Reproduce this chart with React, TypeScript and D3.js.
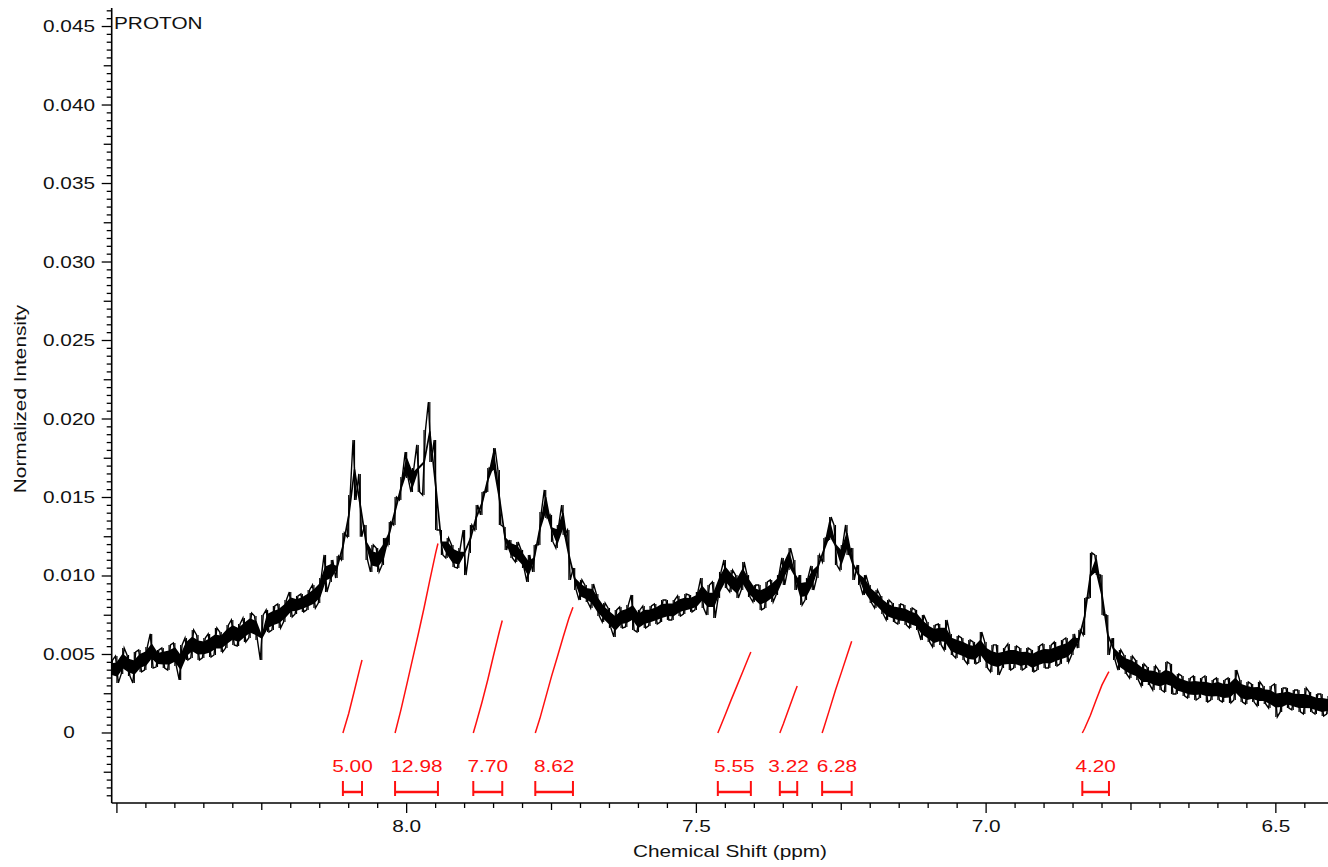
import React from "react";
import * as d3 from "d3";

// 1H spectrum, min/max intensity per 0.01 ppm bin, starting at 8.51 ppm and moving upfield
const PPM_START = 8.51;
const PPM_STEP = 0.01;

const traceHigh = [
  0.00465, 0.00490, 0.00541, 0.00497, 0.00516, 0.00529, 0.00548, 0.00631, 0.00529, 0.00541,
  0.00561, 0.00573, 0.00561, 0.00605, 0.00656, 0.00624, 0.00605, 0.00631, 0.00669, 0.00643,
  0.00688, 0.00720, 0.00694, 0.00733, 0.00764, 0.00745, 0.00752, 0.00784, 0.00809, 0.00822,
  0.00847, 0.00898, 0.00873, 0.00885, 0.00911, 0.00943, 0.00987, 0.01134, 0.01102, 0.01127,
  0.01274, 0.01516, 0.01866, 0.01650, 0.01325, 0.01198, 0.01178, 0.01242, 0.01344, 0.01503,
  0.01631, 0.01790, 0.01688, 0.01835, 0.01930, 0.02108, 0.01866, 0.01293, 0.01242, 0.01198,
  0.01178, 0.01293, 0.01325, 0.01452, 0.01535, 0.01688, 0.01815, 0.01675, 0.01312, 0.01229,
  0.01217, 0.01166, 0.01134, 0.01198, 0.01408, 0.01548, 0.01389, 0.01325, 0.01452, 0.01293,
  0.01051, 0.00975, 0.00943, 0.00949, 0.00885, 0.00828, 0.00796, 0.00784, 0.00803, 0.00815,
  0.00879, 0.00784, 0.00809, 0.00809, 0.00822, 0.00847, 0.00847, 0.00847, 0.00873, 0.00885,
  0.00879, 0.00898, 0.00987, 0.00943, 0.00962, 0.01026, 0.01102, 0.01038, 0.01006, 0.01089,
  0.01006, 0.00943, 0.00943, 0.00962, 0.00975, 0.01006, 0.01115, 0.01178, 0.01102, 0.01006,
  0.00987, 0.01064, 0.01134, 0.01242, 0.01376, 0.01325, 0.01198, 0.01325, 0.01178, 0.01070,
  0.01006, 0.00943, 0.00911, 0.00873, 0.00847, 0.00828, 0.00822, 0.00815, 0.00796, 0.00784,
  0.00752, 0.00707, 0.00688, 0.00694, 0.00720, 0.00631, 0.00618, 0.00605, 0.00592, 0.00580,
  0.00643, 0.00580, 0.00561, 0.00561, 0.00541, 0.00567, 0.00554, 0.00541, 0.00541, 0.00529,
  0.00554, 0.00567, 0.00561, 0.00580, 0.00592, 0.00605, 0.00631, 0.00656, 0.00860, 0.01147,
  0.01134, 0.01006, 0.00752, 0.00605, 0.00529, 0.00497, 0.00490, 0.00465, 0.00440, 0.00420,
  0.00427, 0.00401, 0.00452, 0.00440, 0.00376, 0.00363, 0.00350, 0.00363, 0.00350, 0.00363,
  0.00338, 0.00350, 0.00338, 0.00350, 0.00401, 0.00338, 0.00325, 0.00312, 0.00325, 0.00299,
  0.00299, 0.00312, 0.00287, 0.00287, 0.00274, 0.00274, 0.00287, 0.00261, 0.00248, 0.00248,
  0.00236,
];

const traceLow = [
  0.00350, 0.00319, 0.00376, 0.00363, 0.00319, 0.00389, 0.00401, 0.00414, 0.00420, 0.00414,
  0.00401, 0.00427, 0.00338, 0.00465, 0.00478, 0.00465, 0.00478, 0.00484, 0.00497, 0.00516,
  0.00541, 0.00561, 0.00554, 0.00580, 0.00605, 0.00592, 0.00465, 0.00643, 0.00656, 0.00669,
  0.00707, 0.00739, 0.00758, 0.00771, 0.00784, 0.00796, 0.00828, 0.00898, 0.00962, 0.00987,
  0.01102, 0.01249, 0.01484, 0.01250, 0.01102, 0.01026, 0.01026, 0.01070, 0.01198, 0.01325,
  0.01484, 0.01624, 0.01535, 0.01535, 0.01516, 0.01726, 0.01293, 0.01134, 0.01115, 0.01057,
  0.01051, 0.01006, 0.01147, 0.01293, 0.01389, 0.01535, 0.01675, 0.01325, 0.01166, 0.01115,
  0.01089, 0.01051, 0.00962, 0.01026, 0.01198, 0.01370, 0.01217, 0.01178, 0.01261, 0.00975,
  0.00911, 0.00847, 0.00834, 0.00796, 0.00745, 0.00707, 0.00669, 0.00612, 0.00669, 0.00675,
  0.00656, 0.00643, 0.00669, 0.00682, 0.00694, 0.00707, 0.00720, 0.00720, 0.00745, 0.00758,
  0.00771, 0.00784, 0.00796, 0.00752, 0.00733, 0.00860, 0.00924, 0.00898, 0.00860, 0.00911,
  0.00866, 0.00834, 0.00784, 0.00796, 0.00834, 0.00879, 0.00943, 0.01038, 0.00911, 0.00815,
  0.00847, 0.00911, 0.00987, 0.01089, 0.01229, 0.01070, 0.01038, 0.01134, 0.00975, 0.00943,
  0.00879, 0.00828, 0.00796, 0.00758, 0.00720, 0.00707, 0.00694, 0.00688, 0.00669, 0.00656,
  0.00592, 0.00580, 0.00548, 0.00561, 0.00529, 0.00497, 0.00478, 0.00465, 0.00440, 0.00440,
  0.00452, 0.00414, 0.00389, 0.00369, 0.00414, 0.00401, 0.00414, 0.00401, 0.00414, 0.00389,
  0.00401, 0.00414, 0.00414, 0.00427, 0.00440, 0.00452, 0.00497, 0.00541, 0.00624, 0.00860,
  0.01006, 0.00752, 0.00497, 0.00465, 0.00401, 0.00376, 0.00350, 0.00338, 0.00299, 0.00306,
  0.00274, 0.00274, 0.00261, 0.00248, 0.00248, 0.00236, 0.00223, 0.00210, 0.00223, 0.00197,
  0.00210, 0.00210, 0.00197, 0.00191, 0.00210, 0.00197, 0.00185, 0.00197, 0.00172, 0.00185,
  0.00159, 0.00102, 0.00134, 0.00159, 0.00147, 0.00134, 0.00121, 0.00134, 0.00121, 0.00108,
  0.00121,
];

// Integration regions (ppm, downfield edge first) and their integral values
const integralFrom = [8.110, 8.020, 7.885, 7.778, 7.463, 7.356, 7.283, 6.834];
const integralTo = [8.077, 7.946, 7.835, 7.713, 7.406, 7.326, 7.232, 6.788];
const integralValues = [5.0, 12.98, 7.7, 8.62, 5.55, 3.22, 6.28, 4.2];

const yLabelValues = [0, 0.005, 0.01, 0.015, 0.02, 0.025, 0.03, 0.035, 0.04, 0.045];
const yLabelTexts = ["0", "0.005", "0.010", "0.015", "0.020", "0.025", "0.030", "0.035", "0.040", "0.045"];
const xLabelValues = [8.0, 7.5, 7.0, 6.5];
const xLabelTexts = ["8.0", "7.5", "7.0", "6.5"];

const W = 1328;
const H = 867;
const PLOT_LEFT = 111.7;
const PLOT_BOTTOM = 803;
const PLOT_TOP = 8;
const FONT = "'Liberation Sans', Arial, Helvetica, sans-serif";
const TEXT_SX = 1.3;
const RED = "#ff1010";
const INTEGRAL_PX_PER_UNIT = 14.6;
// widest bin spread still treated as pure noise
const NOISE_SPREAD = 0.0025;

const x = d3.scaleLinear().domain([8.509, 6.41]).range([PLOT_LEFT, W]);
const y = d3.scaleLinear().domain([-0.00446, 0.04618]).range([PLOT_BOTTOM, PLOT_TOP]);

const N = traceHigh.length;
const ppmAt = (i: number) => PPM_START - i * PPM_STEP;
const mids = traceHigh.map((h, i) => (h + traceLow[i]) / 2);
const spreads = traceHigh.map((h, i) => h - traceLow[i]);
const slopes = mids.map((_, i) => mids[Math.min(N - 1, i + 1)] - mids[Math.max(0, i - 1)]);
const isEdge = (i: number) => Math.abs(slopes[i]) > spreads[i];
const isSignal = (i: number) => isEdge(i) || spreads[i] > NOISE_SPREAD;

// min/max decimated trace: extremes of every bin, in the order the signal runs
function tracePath(): string {
  const quarter = Math.abs(x(PPM_START) - x(PPM_START - PPM_STEP)) / 4;
  const pts: [number, number][] = [];
  let flip = false;
  for (let i = 0; i < N; i++) {
    const cx = x(ppmAt(i));
    let highFirst: boolean;
    if (isEdge(i)) {
      highFirst = slopes[i] < 0;
    } else {
      highFirst = flip;
      flip = !flip;
    }
    const a = highFirst ? traceHigh[i] : traceLow[i];
    const b = highFirst ? traceLow[i] : traceHigh[i];
    pts.push([cx - quarter, y(a)], [cx + quarter, y(b)]);
  }
  return d3.line()(pts) || "";
}

// dense core of the noise band
function corePath(): string {
  const half = (i: number) => (isSignal(i) ? 0.00002 : Math.min(0.28 * spreads[i], 0.0004));
  const area = d3
    .area<number>()
    .x((i) => x(ppmAt(i)))
    .y0((i) => y(mids[i] - half(i)))
    .y1((i) => y(mids[i] + half(i)));
  return area(d3.range(N)) || "";
}

function integralPath(from: number, to: number, value: number): string {
  const ps: number[] = [from];
  for (let i = 0; i < N; i++) {
    const p = ppmAt(i);
    if (p < from && p > to) ps.push(p);
  }
  ps.push(to);
  const midAt = (p: number) => {
    const i = Math.max(0, Math.min(N - 1, Math.round((PPM_START - p) / PPM_STEP)));
    return mids[i];
  };
  const cums = [0];
  let cum = 0;
  for (let k = 1; k < ps.length; k++) {
    cum += ((midAt(ps[k - 1]) + midAt(ps[k])) / 2) * (ps[k - 1] - ps[k]);
    cums.push(cum);
  }
  const k = (value * INTEGRAL_PX_PER_UNIT) / cum;
  const pts: [number, number][] = ps.map((p, j) => [x(p), y(0) - cums[j] * k]);
  return d3.line()(pts) || "";
}

function SText(props: {
  x: number;
  y: number;
  anchor?: string;
  rotate?: number;
  fill?: string;
  size?: number;
  children: React.ReactNode;
}) {
  const { x: tx, y: ty, anchor = "start", rotate = 0, fill = "#111", size = 16, children } = props;
  return (
    <g transform={`translate(${tx},${ty}) rotate(${rotate}) scale(${TEXT_SX},1)`}>
      <text x={0} y={0} textAnchor={anchor as any} fontFamily={FONT} fontSize={size} fill={fill}>
        {children}
      </text>
    </g>
  );
}

export default function App() {
  const yTicks: { v: number; len: number }[] = [];
  for (let k = -8; k <= 92; k++) {
    const len = k % 10 === 0 ? 10 : k % 5 === 0 ? 8 : 5;
    yTicks.push({ v: k * 0.0005, len });
  }
  const xTicks: { v: number; len: number }[] = [];
  for (let m = 0; m <= 41; m++) {
    const len = m % 10 === 0 ? 10 : m % 5 === 0 ? 7 : 5;
    xTicks.push({ v: 8.5 - m * 0.05, len });
  }

  return (
    <div style={{ position: "absolute", left: 0, top: 0 }}>
      <svg width={W} height={H} viewBox={`0 0 ${W} ${H}`} style={{ display: "block", background: "#fff" }}>
        <defs>
          <clipPath id="plotClip">
            <rect x={PLOT_LEFT} y={0} width={W - PLOT_LEFT} height={PLOT_BOTTOM} />
          </clipPath>
        </defs>

        {/* spectrum trace */}
        <g clipPath="url(#plotClip)">
          <path d={corePath()} fill="#000" stroke="#000" strokeWidth={1.6} strokeLinejoin="round" />
          <path d={tracePath()} fill="none" stroke="#000" strokeWidth={1.4} strokeLinejoin="miter" />
          {traceHigh.map((h, i) => (
            <line
              key={i}
              x1={x(ppmAt(i))}
              x2={x(ppmAt(i))}
              y1={y(h)}
              y2={y(traceLow[i])}
              stroke="#000"
              strokeWidth={1.2}
            />
          ))}
        </g>

        {/* integral curves, brackets and values */}
        {integralValues.map((v, i) => {
          const x0 = x(integralFrom[i]);
          const x1 = x(integralTo[i]);
          return (
            <g key={i}>
              <path d={integralPath(integralFrom[i], integralTo[i], v)} fill="none" stroke={RED} strokeWidth={1.5} />
              <line x1={x0} x2={x1} y1={792} y2={792} stroke={RED} strokeWidth={2.5} />
              <line x1={x0} x2={x0} y1={781} y2={796} stroke={RED} strokeWidth={2} />
              <line x1={x1} x2={x1} y1={781} y2={796} stroke={RED} strokeWidth={2} />
              <SText x={(x0 + x1) / 2} y={772} anchor="middle" fill={RED}>
                {v.toFixed(2)}
              </SText>
            </g>
          );
        })}

        {/* y axis */}
        <line x1={PLOT_LEFT} x2={PLOT_LEFT} y1={PLOT_TOP} y2={PLOT_BOTTOM} stroke="#000" strokeWidth={1.6} />
        {yTicks.map((t, i) => (
          <line key={i} x1={PLOT_LEFT - t.len} x2={PLOT_LEFT} y1={y(t.v)} y2={y(t.v)} stroke="#000" strokeWidth={1.3} />
        ))}
        {yLabelValues.map((v, i) => (
          <SText key={i} x={69} y={y(v) + 5.5} anchor="middle">
            {yLabelTexts[i]}
          </SText>
        ))}
        <SText x={26} y={399} anchor="middle" rotate={-90}>
          Normalized Intensity
        </SText>

        {/* x axis */}
        <line x1={PLOT_LEFT} x2={W} y1={PLOT_BOTTOM} y2={PLOT_BOTTOM} stroke="#000" strokeWidth={1.6} />
        {xTicks.map((t, i) => (
          <line key={i} x1={x(t.v)} x2={x(t.v)} y1={PLOT_BOTTOM} y2={PLOT_BOTTOM + t.len} stroke="#000" strokeWidth={1.3} />
        ))}
        {xLabelValues.map((v, i) => (
          <SText key={i} x={x(v)} y={832} anchor="middle">
            {xLabelTexts[i]}
          </SText>
        ))}
        <SText x={730} y={857} anchor="middle">
          Chemical Shift (ppm)
        </SText>

        <SText x={114} y={29}>
          PROTON
        </SText>
      </svg>
    </div>
  );
}
